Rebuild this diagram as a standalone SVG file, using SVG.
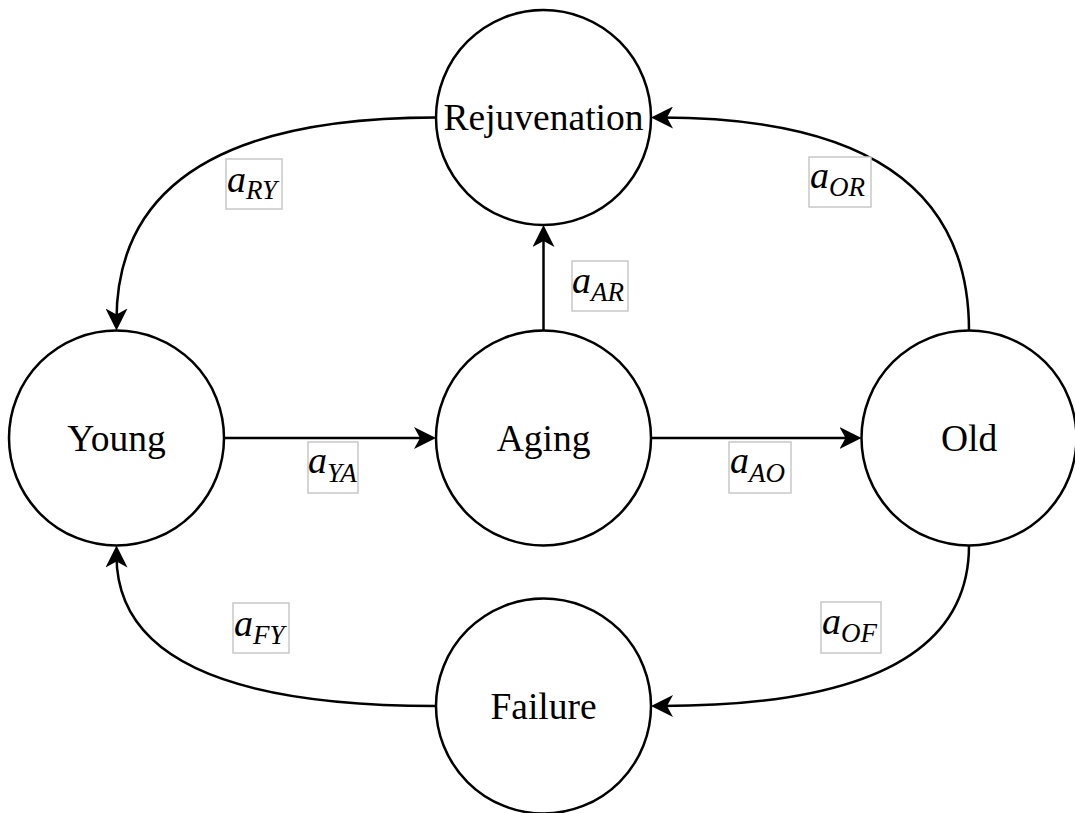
<svg xmlns="http://www.w3.org/2000/svg" width="1075" height="813" viewBox="0 0 1075 813">
<style>
.node circle{fill:#fff;stroke:#000;stroke-width:2.5}
.node text{font-family:"Liberation Serif",serif;font-size:37.5px;text-anchor:middle;fill:#000}
.edges path{fill:none;stroke:#000;stroke-width:2.5}
.lbl rect{fill:#fff;stroke:#c8c8c8;stroke-width:1.5}
.lbl text{font-family:"Liberation Serif",serif;font-style:italic;font-size:38px;fill:#000}
.lbl tspan.s{font-size:27px}
</style>
<defs>
<marker id="arr" markerUnits="userSpaceOnUse" viewBox="0 0 22 22" markerWidth="22" markerHeight="22" refX="12" refY="11" orient="auto">
<path d="M0,0 L22,11 L0,22 L6,11 Z" fill="#000"/>
</marker>
</defs>
<rect width="1075" height="813" fill="#fff"/>
<g class="edges">
<path d="M224,438 L426,438" marker-end="url(#arr)"/>
<path d="M651,438 L851.5,438" marker-end="url(#arr)"/>
<path d="M543.5,330.5 L543.5,235" marker-end="url(#arr)"/>
<path d="M436,117.5 Q116.5,117.5 116.5,320.5" marker-end="url(#arr)"/>
<path d="M969,330.5 Q969,117.5 661,117.5" marker-end="url(#arr)"/>
<path d="M969,545.5 Q969,706 661,706" marker-end="url(#arr)"/>
<path d="M436,706 Q116.5,706 116.5,555.5" marker-end="url(#arr)"/>
</g>
<g id="rejuvenation" class="node"><circle cx="543.5" cy="117.5" r="107.5"/><text x="543.5" y="130">Rejuvenation</text></g>
<g id="young" class="node"><circle cx="116.5" cy="438" r="107.5"/><text x="116.5" y="450.5">Young</text></g>
<g id="aging" class="node"><circle cx="543.5" cy="438" r="107.5"/><text x="543.5" y="450.5">Aging</text></g>
<g id="old" class="node"><circle cx="969" cy="438" r="107.5"/><text x="969" y="450.5">Old</text></g>
<g id="failure" class="node"><circle cx="543.5" cy="706" r="107.5"/><text x="543.5" y="718.5">Failure</text></g>
<g id="labels">
<g class="lbl"><rect x="226" y="159" width="56" height="50"/><text x="227" y="192">a<tspan class="s" dy="7">RY</tspan></text></g>
<g class="lbl"><rect x="572" y="261" width="56" height="50"/><text x="572" y="293">a<tspan class="s" dy="8">AR</tspan></text></g>
<g class="lbl"><rect x="308" y="442" width="50" height="51"/><text x="308" y="473">a<tspan class="s" dy="9">YA</tspan></text></g>
<g class="lbl"><rect x="729" y="442" width="62" height="51"/><text x="730" y="473">a<tspan class="s" dy="9">AO</tspan></text></g>
<g class="lbl"><rect x="809" y="157" width="62" height="50"/><text x="810" y="188">a<tspan class="s" dy="8">OR</tspan></text></g>
<g class="lbl"><rect x="821" y="602" width="60" height="51"/><text x="822" y="634">a<tspan class="s" dy="8">OF</tspan></text></g>
<g class="lbl"><rect x="233" y="603" width="56" height="50"/><text x="234" y="636">a<tspan class="s" dy="8">FY</tspan></text></g>
</g>
</svg>
